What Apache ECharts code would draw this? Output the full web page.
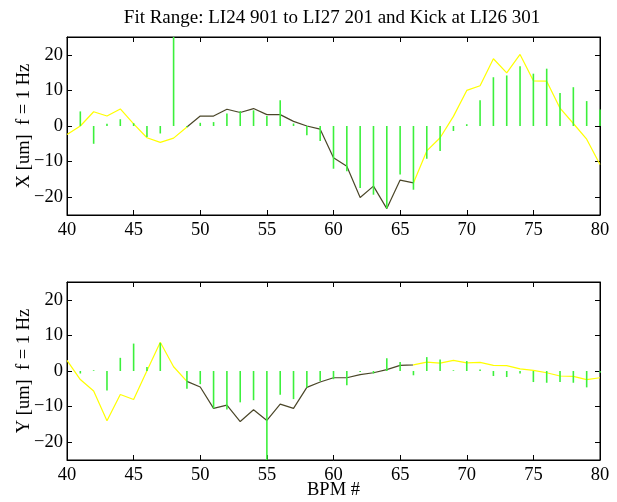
<!DOCTYPE html>
<html>
<head>
<meta charset="utf-8">
<script src="https://cdn.jsdelivr.net/npm/echarts@6/dist/echarts.min.js"></script>
<style>
  html, body { margin: 0; padding: 0; background: #ffffff; }
  #chart { width: 617px; height: 502px; }
</style>
</head>
<body>
<div id="chart"></div>
<script>
// BPM index along the beamline
const bpm = [40, 41, 42, 43, 44, 45, 46, 47, 48, 49,
             50, 51, 52, 53, 54, 55, 56, 57, 58, 59,
             60, 61, 62, 63, 64, 65, 66, 67, 68, 69,
             70, 71, 72, 73, 74, 75, 76, 77, 78, 79, 80];

// Horizontal plane: fitted orbit (line) and measured BPM readings (stems), um
const xFit = [-2.4, 0.0, 4.0, 2.8, 4.8, 0.6, -3.3, -4.6, -3.4, -0.3,
              2.8, 2.8, 4.7, 3.8, 4.9, 3.2, 3.2, 1.3, 0.0, -0.9,
              -8.9, -11.3, -20.1, -16.9, -23.2, -15.2, -16.0, -7.0, -3.3, 2.7,
              10.0, 11.3, 18.9, 14.9, 20.1, 12.7, 12.6, 5.0, 0.7, -3.7, -10.8];
const xMeas = [0.0, 4.1, -5.0, 0.6, 1.9, 0.8, -3.1, -2.1, 28.0, -0.3,
               0.9, 1.1, 3.5, 4.2, 4.4, 2.8, 7.2, 0.7, -2.6, -4.2,
               -12.0, -12.7, -17.4, -19.3, -23.2, -13.6, -17.9, -9.2, -7.0, -1.4,
               0.5, 7.2, 13.7, 14.2, 16.8, 14.7, 16.1, 9.3, 10.9, 7.0, 4.6];

// Vertical plane: fitted orbit (line) and measured BPM readings (stems), um
const yFit = [3.0, -2.4, -5.6, -14.0, -6.6, -8.0, 0.1, 8.1, 1.2, -2.9,
              -4.5, -10.5, -9.6, -14.2, -10.9, -13.9, -9.3, -10.5, -4.6, -3.1,
              -1.9, -1.9, -1.0, -0.5, 0.4, 1.6, 1.7, 2.5, 2.2, 3.0,
              2.3, 2.4, 1.6, 1.5, 0.6, 0.2, -0.5, -1.4, -1.5, -2.4, -1.9];
const yMeas = [0.0, -0.7, 0.2, -5.5, 3.7, 7.7, 1.1, 7.9, 0.0, -5.0,
               -3.7, -10.5, -10.8, -8.8, -8.2, -28.0, -6.7, -7.9, -4.6, -2.8,
               -2.3, -4.0, -0.3, -0.7, 3.6, 2.5, -1.2, 3.9, 3.2, 0.2,
               2.8, 0.4, -1.4, -1.7, -0.7, -3.1, -3.3, -3.1, -3.3, -4.6, -0.5];

// Axis ticks
const xTicks = [40, 45, 50, 55, 60, 65, 70, 75, 80];
const yTicks = [-20, -10, 0, 10, 20];

// Fit range in BPM numbers (drawn dark), outside drawn yellow
const fitStart = 49;
const fitEnd = 66;

const FONT = '"Liberation Serif", "DejaVu Serif", serif';
const YELLOW = '#ffff00';
const DARK = '#4a4628';
const GREEN = '#3cf03c';

const pairs = (xs, ys) => xs.map((x, i) => [x, ys[i]]);

function xAxes(grid) {
  const base = {
    type: 'value', gridIndex: grid, min: 40, max: 80, interval: 5,
    axisLine: { show: true, onZero: false, lineStyle: { color: '#000', width: 1 } },
    axisTick: { show: true, inside: true, length: 5, customValues: xTicks, lineStyle: { color: '#000' } },
    splitLine: { show: false }
  };
  return [
    Object.assign({}, base, {
      position: 'bottom',
      axisLabel: { show: true, customValues: xTicks, color: '#000', fontFamily: FONT, fontSize: 18.5, margin: 6 }
    }),
    Object.assign({}, base, { position: 'top', axisLabel: { show: false } })
  ];
}

function yAxes(grid, name) {
  const base = {
    type: 'value', gridIndex: grid, min: -25, max: 25,
    axisLine: { show: true, onZero: false, lineStyle: { color: '#000', width: 1 } },
    axisTick: { show: true, inside: true, length: 5, customValues: yTicks, lineStyle: { color: '#000' } },
    splitLine: { show: false }
  };
  return [
    Object.assign({}, base, {
      position: 'left',
      name: name, nameLocation: 'middle', nameGap: 33, nameMoveOverlap: false,
      nameTextStyle: { color: '#000', fontFamily: FONT, fontSize: 18.5 },
      axisLabel: { show: true, customValues: yTicks, color: '#000', fontFamily: FONT, fontSize: 18.5, margin: 4,
                   formatter: v => (v < 0 ? '\u2212' + Math.abs(v) : String(v)) }
    }),
    Object.assign({}, base, { position: 'right', axisLabel: { show: false } })
  ];
}

const topX = xAxes(0), botX = xAxes(1);
botX[0].name = 'BPM #';
botX[0].nameLocation = 'middle';
botX[0].nameGap = 21;
botX[0].nameMoveOverlap = false;
botX[0].nameTextStyle = { color: '#000', fontFamily: FONT, fontSize: 18.5 };

const gridBase = { left: 67, right: 17, height: 178, show: true, borderColor: '#000', borderWidth: 1,
                   backgroundColor: '#fff', containLabel: false, outerBoundsMode: 'none' };

const option = {
  backgroundColor: '#ffffff',
  animation: false,
  title: {
    text: 'Fit Range: LI24 901 to LI27 201 and Kick at LI26 301',
    left: 327, top: 4, textAlign: 'center',
    textStyle: { color: '#000', fontFamily: FONT, fontSize: 19, fontWeight: 'normal' }
  },
  grid: [
    Object.assign({}, gridBase, { top: 37 }),
    Object.assign({}, gridBase, { top: 282 })
  ],
  xAxis: [topX[0], topX[1], botX[0], botX[1]],
  yAxis: yAxes(0, 'X [um]  f = 1 Hz').concat(yAxes(1, 'Y [um]  f = 1 Hz')),
  visualMap: [{
    type: 'piecewise', show: false, dimension: 0, seriesIndex: [0, 2],
    pieces: [
      { lt: fitStart, color: YELLOW },
      { gte: fitStart, lte: fitEnd, color: DARK },
      { gt: fitEnd, color: YELLOW }
    ]
  }],
  series: [
    {
      type: 'line', xAxisIndex: 0, yAxisIndex: 0, data: pairs(bpm, xFit),
      showSymbol: false, lineStyle: { width: 1.2 }, z: 3
    },
    {
      type: 'bar', xAxisIndex: 0, yAxisIndex: 0, data: pairs(bpm, xMeas),
      barWidth: 1.6, itemStyle: { color: GREEN }, clip: true, z: 4
    },
    {
      type: 'line', xAxisIndex: 2, yAxisIndex: 2, data: pairs(bpm, yFit),
      showSymbol: false, lineStyle: { width: 1.2 }, z: 3
    },
    {
      type: 'bar', xAxisIndex: 2, yAxisIndex: 2, data: pairs(bpm, yMeas),
      barWidth: 1.6, itemStyle: { color: GREEN }, clip: true, z: 4
    }
  ]
};

const chart = echarts.init(document.getElementById('chart'), null, { renderer: 'canvas' });
chart.setOption(option);
</script>
</body>
</html>
